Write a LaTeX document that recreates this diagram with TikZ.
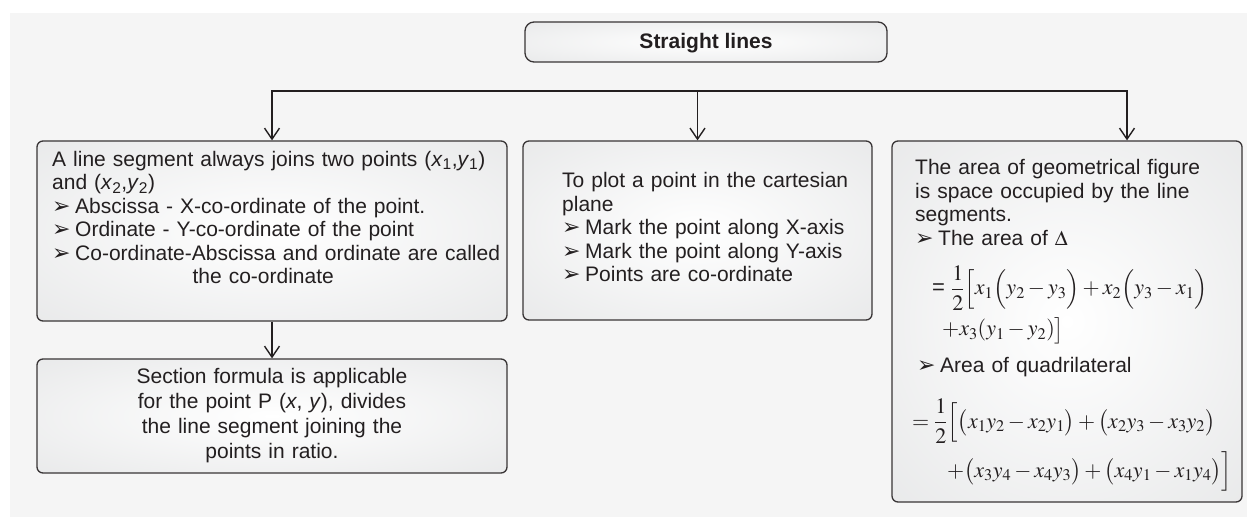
\documentclass[tikz,border=0pt]{standalone}
\usepackage{mathptmx}
\usepackage[no-math]{fontspec}
\setmainfont{Liberation Sans}
\newfontfamily\symfont{DejaVu Sans}
\usetikzlibrary{arrows.meta}
\definecolor{ink}{HTML}{231F20}
\definecolor{bgc}{HTML}{F5F5F5}
\definecolor{boxedge}{HTML}{E0E1E2}
\pgfdeclareradialshading{boxshade}{\pgfpoint{0bp}{0bp}}{color(0bp)=(white); color(50bp)=(boxedge); color(75bp)=(boxedge)}
\newcommand\bulx{\makebox[23pt][l]{\symfont\fontsize{22}{22}\selectfont\char"27A2}}
\tikzset{
  box/.style={draw=ink!90, line width=1.3pt, rounded corners=6pt, shade, shading=boxshade, inner sep=0pt},
  txt/.style={inner sep=0pt, text=ink, font=\fontsize{21}{23.5}\selectfont, align=left, anchor=base west},
  ctxt/.style={inner sep=0pt, text=ink, font=\fontsize{21}{25}\selectfont, align=center, anchor=base},
  mth/.style={inner sep=0pt, text=ink, font=\fontsize{22}{24}\selectfont, anchor=base west},
  arr/.style={draw=ink, line width=1.4pt, line join=miter, -{Straight Barb[length=11pt,width=15pt]}},
}
\begin{document}
\begin{tikzpicture}[x=1pt,y=-1pt]
\useasboundingbox (0,0) rectangle (1247,518);
\fill[bgc] (10,13) rectangle (1247,517);

\node[box, rounded corners=9pt, minimum width=362pt, minimum height=40pt] (t) at (706,42) {};
\node[inner sep=0pt, text=ink, font=\fontsize{21}{24}\selectfont\bfseries, anchor=base] (tt) at (706,49) {Straight lines};

\node[box, minimum width=470pt, minimum height=180pt] (b1) at (272,231) {};
\node[box, minimum width=349pt, minimum height=179pt] (b2) at (697.5,230.5) {};
\node[box, minimum width=350pt, minimum height=361pt] (b3) at (1067,321.5) {};
\node[box, minimum width=470pt, minimum height=114pt] (b4) at (272,416) {};

\coordinate (j2) at (697.5,91);
\coordinate (j3) at (1127,91);
\draw[arr] (j2) -| (b1.north);
\draw[arr] (j2) -| (j3 |- b3.north);
\draw[arr] (j2) -- (b2.north);
\draw[arr] (b1.south) -- (b4.north);

\node[txt, text width=470pt] (t1) at (52,166.5) {A line segment always joins two points (\textit{x}\textsubscript{1},\textit{y}\textsubscript{1})\\
and (\textit{x}\textsubscript{2},\textit{y}\textsubscript{2})\\
\bulx Abscissa - X-co-ordinate of the point.\\
\bulx Ordinate - Y-co-ordinate of the point\\
\bulx Co-ordinate-Abscissa and ordinate are called\\
\makebox[422pt][c]{the co-ordinate}};

\node[ctxt, text width=420pt] (t4) at (272,383) {Section formula is applicable\\
for the point P (\textit{x}, \textit{y}), divides\\
the line segment joining the\\
points in ratio.};

\node[txt, text width=310pt] (t2) at (562,188) {To plot a point in the cartesian\\
plane\\
\bulx Mark the point along X-axis\\
\bulx Mark the point along Y-axis\\
\bulx Points are co-ordinate};

\node[txt, text width=320pt] (t3) at (915,175) {The area of geometrical figure\\
is space occupied by the line\\
segments.\\
\bulx The area of $\Delta$};

\node[mth] (f1) at (932,295) {= $\displaystyle\frac{1}{2}\Big[x_1\Big(y_2-y_3\Big)+x_2\Big(y_3-x_1\Big)$};
\node[mth] (f1b) at (942,336) {$+x_3(y_1-y_2)\big]$};

\node[txt, text width=320pt] (t3b) at (917,373) {\bulx Area of quadrilateral};

\node[mth] (f2) at (912,428) {$=\displaystyle\frac{1}{2}\Big[\big(x_1y_2-x_2y_1\big)+\big(x_2y_3-x_3y_2\big)$};
\node[mth] (f2b) at (947,477) {$+\big(x_3y_4-x_4y_3\big)+\big(x_4y_1-x_1y_4\big)\Big]$};
\end{tikzpicture}
\end{document}
